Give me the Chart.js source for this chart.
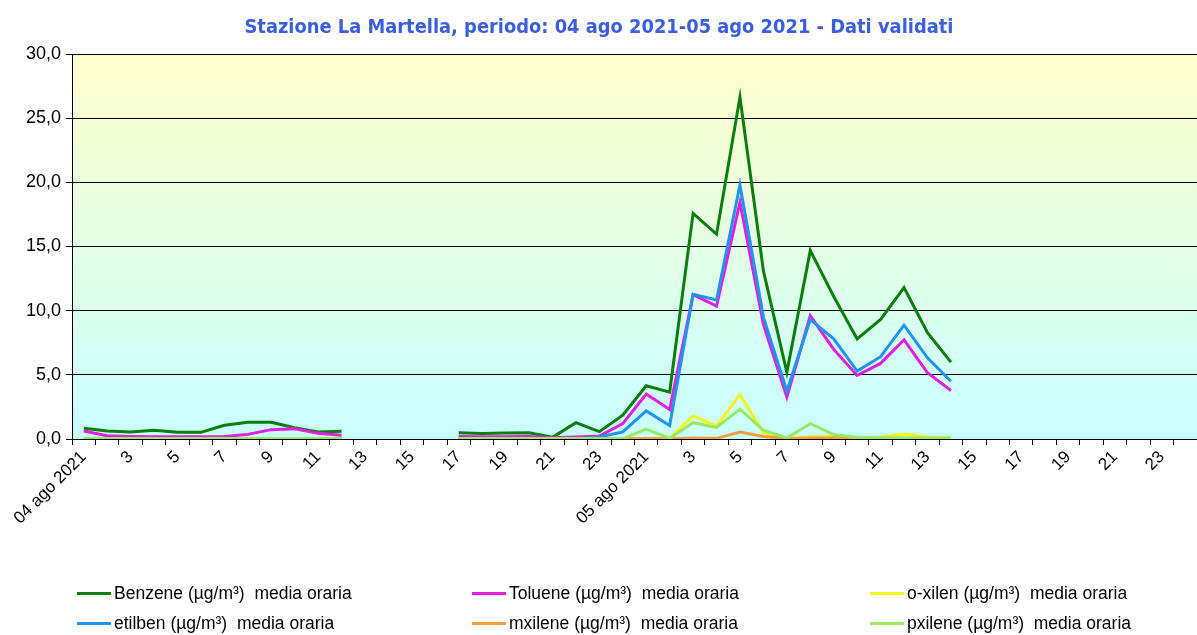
<!DOCTYPE html>
<html>
<head>
<meta charset="utf-8">
<script src="https://cdn.jsdelivr.net/npm/chart.js@4.4.0/dist/chart.umd.min.js"></script>
<style>
  html, body { margin: 0; padding: 0; background: #fff; }
  #wrap { position: relative; width: 1197px; height: 635px; overflow: hidden; }
  #chart { position: absolute; left: 0; top: 0; }
  #title { position: absolute; top: 15px; left: 0; width: 1197px; text-align: center; white-space: pre; }
  #title span { display: inline-block; font: bold 19px "DejaVu Sans", Verdana, sans-serif; color: #3b5fdc; transform-origin: center; }
  .leg { position: absolute; font: 17.5px "Liberation Sans", Arial, sans-serif; color: #000; white-space: pre; line-height: 20px; }
  .leg i { display: inline-block; width: 34px; height: 3px; margin-right: 3px; vertical-align: middle; position: relative; top: -1px; }
</style>
</head>
<body>
<div id="wrap">
  <canvas id="chart" width="1197" height="635"></canvas>
  <div id="title"><span>Stazione La Martella, periodo: 04 ago 2021-05 ago 2021 - Dati validati</span></div>
  <div id="legend"></div>
</div>
<script>
// ore dei due giorni (etichette asse x)
const hourLabels = [
    '04 ago 2021', '2', '3', '4', '5', '6', '7', '8', '9', '10', '11', '12',
    '13', '14', '15', '16', '17', '18', '19', '20', '21', '22', '23', '24',
    '05 ago 2021', '2', '3', '4', '5', '6', '7', '8', '9', '10', '11', '12',
    '13', '14', '15', '16', '17', '18', '19', '20', '21', '22', '23', '24'
];

const benzene = [
    0.84, 0.62, 0.55, 0.68, 0.52, 0.52, 1.07, 1.3, 1.3, 0.88, 0.55, 0.6,
    null, null, null, null, 0.49, 0.42, 0.47, 0.49, 0.13, 1.27, 0.57, 1.85,
    4.15, 3.65, 17.58, 15.96, 26.64, 13.1, 5.2, 14.68, 11.1, 7.8, 9.32, 11.8,
    8.28, 5.99, null, null, null, null, null, null, null, null, null, null
];
const toluene = [
    0.62, 0.26, 0.2, 0.18, 0.18, 0.18, 0.2, 0.36, 0.73, 0.8, 0.44, 0.29,
    null, null, null, null, 0.2, 0.18, 0.18, 0.2, 0.1, 0.15, 0.23, 1.2,
    3.5, 2.3, 11.25, 10.36, 18.44, 8.93, 3.26, 9.6, 6.98, 4.95, 5.89, 7.73,
    5.16, 3.78, null, null, null, null, null, null, null, null, null, null
];
const oxilen = [
    0.02, 0.02, 0.02, 0.02, 0.02, 0.02, 0.02, 0.02, 0.02, 0.02, 0.02, 0.02,
    null, null, null, null, 0.02, 0.02, 0.02, 0.02, 0.02, 0.02, 0.02, 0.02,
    0.05, 0.05, 1.8, 1.0, 3.45, 0.5, 0.08, 0.15, 0.2, 0.08, 0.15, 0.39,
    0.15, 0.05, null, null, null, null, null, null, null, null, null, null
];
const etilben = [
    0.02, 0.02, 0.02, 0.02, 0.02, 0.02, 0.02, 0.02, 0.02, 0.02, 0.02, 0.02,
    null, null, null, null, 0.02, 0.02, 0.02, 0.02, 0.02, 0.02, 0.15, 0.55,
    2.19, 1.05, 11.28, 10.83, 19.8, 9.5, 3.72, 9.3, 7.81, 5.29, 6.41, 8.87,
    6.33, 4.5, null, null, null, null, null, null, null, null, null, null
];
const mxilene = [
    0.02, 0.02, 0.02, 0.02, 0.02, 0.02, 0.02, 0.02, 0.02, 0.02, 0.02, 0.02,
    null, null, null, null, 0.02, 0.02, 0.02, 0.02, 0.02, 0.02, 0.02, 0.02,
    0.03, 0.02, 0.08, 0.05, 0.55, 0.2, 0.03, 0.08, 0.1, 0.05, 0.05, 0.05,
    0.05, 0.05, null, null, null, null, null, null, null, null, null, null
];
const pxilene = [
    0.03, 0.03, 0.03, 0.03, 0.03, 0.03, 0.03, 0.03, 0.03, 0.03, 0.03, 0.03,
    null, null, null, null, 0.03, 0.03, 0.03, 0.03, 0.03, 0.03, 0.03, 0.03,
    0.77, 0.05, 1.27, 0.9, 2.33, 0.68, 0.08, 1.2, 0.34, 0.13, 0.1, 0.08,
    0.08, 0.08, null, null, null, null, null, null, null, null, null, null
];

// nome, dati, colore, colonna/riga della legenda
const series = [
    { name: 'Benzene (µg/m³)  media oraria', data: benzene, color: '#0a7d0a', col: 0, row: 0 },
    { name: 'Toluene (µg/m³)  media oraria', data: toluene, color: '#e020e0', col: 1, row: 0 },
    { name: 'o-xilen (µg/m³)  media oraria', data: oxilen, color: '#f5f51e', col: 2, row: 0 },
    { name: 'etilben (µg/m³)  media oraria', data: etilben, color: '#2094f0', col: 0, row: 1 },
    { name: 'mxilene (µg/m³)  media oraria', data: mxilene, color: '#f0a040', col: 1, row: 1 },
    { name: 'pxilene (µg/m³)  media oraria', data: pxilene, color: '#9ae866', col: 2, row: 1 }
];

const legendCols = [77, 472, 870];
const legendRows = [583, 613];

const plotBg = {
    id: 'plotBg',
    beforeDraw(chart) {
        const { ctx, chartArea: a } = chart;
        const g = ctx.createLinearGradient(0, a.top, 0, a.bottom);
        g.addColorStop(0, '#ffffcc');
        g.addColorStop(1, '#c8ffff');
        ctx.save();
        ctx.fillStyle = g;
        ctx.fillRect(a.left, a.top, a.right - a.left, a.bottom - a.top);
        ctx.restore();
    }
};

new Chart(document.getElementById('chart'), {
    type: 'line',
    data: {
        labels: hourLabels,
        // l'ultima serie va disegnata sopra, come in Excel
        datasets: series.map((s, i) => ({
            label: s.name,
            data: s.data,
            borderColor: s.color,
            backgroundColor: s.color,
            borderWidth: 3,
            pointRadius: 0,
            tension: 0,
            spanGaps: false,
            order: series.length - i
        }))
    },
    options: {
        responsive: false,
        animation: false,
        devicePixelRatio: 1,
        layout: { padding: { top: 54, right: 0, left: 0, bottom: 0 } },
        plugins: {
            legend: { display: false },
            title: { display: false },
            tooltip: { enabled: false }
        },
        scales: {
            x: {
                offset: true,
                grid: { offset: true, drawOnChartArea: false, drawTicks: true, tickLength: 6, color: '#000' },
                border: { color: '#000', width: 1 },
                ticks: {
                    autoSkip: false,
                    minRotation: 45,
                    maxRotation: 45,
                    padding: 2,
                    color: '#000',
                    font: { family: '"Liberation Sans", Arial, sans-serif', size: 17 },
                    callback: (v, idx) => idx % 2 === 0 ? hourLabels[idx] : ''
                },
                afterFit(scale) {
                    scale.height = 196;
                    scale.paddingLeft = 0;
                    scale.paddingRight = 0;
                }
            },
            y: {
                min: 0,
                max: 30,
                grid: { color: '#000', lineWidth: 1, drawTicks: true, tickLength: 6 },
                border: { color: '#000', width: 1 },
                ticks: {
                    stepSize: 5,
                    padding: 5,
                    color: '#000',
                    font: { family: '"Liberation Sans", Arial, sans-serif', size: 18 },
                    callback: v => v.toFixed(1).replace('.', ',')
                },
                afterFit(scale) { scale.width = 72; }
            }
        }
    },
    plugins: [plotBg]
});

// legenda in html, 3 colonne x 2 righe
const legendBox = document.getElementById('legend');
series.forEach(s => {
    const el = document.createElement('div');
    el.className = 'leg';
    el.style.left = legendCols[s.col] + 'px';
    el.style.top = legendRows[s.row] + 'px';
    el.innerHTML = `<i style="background:${s.color}"></i>${s.name}`;
    legendBox.appendChild(el);
});

// titolo: stringo il testo alla larghezza dell'originale
const t = document.querySelector('#title span');
t.style.transform = `scaleX(${709 / t.offsetWidth})`;
</script>
</body>
</html>
